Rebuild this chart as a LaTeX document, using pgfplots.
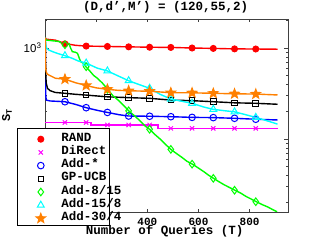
\documentclass[border=0pt]{standalone}
\usepackage{pgfplots}
\pgfplotsset{compat=1.18}
\usepackage{fontspec}
\setmainfont{Liberation Mono}
\newfontfamily\hel{Liberation Sans}
\definecolor{myorange}{rgb}{1,0.5,0}
\definecolor{mygreen}{rgb}{0,1,0}
\definecolor{mycyan}{rgb}{0,1,1}
\definecolor{mymag}{rgb}{1,0,1}

\pgfdeclareplotmark{fstar}{%
  \pgfpathmoveto{\pgfpointpolar{90}{\pgfplotmarksize}}%
  \pgfpathlineto{\pgfpointpolar{126}{0.42\pgfplotmarksize}}%
  \pgfpathlineto{\pgfpointpolar{162}{\pgfplotmarksize}}%
  \pgfpathlineto{\pgfpointpolar{198}{0.42\pgfplotmarksize}}%
  \pgfpathlineto{\pgfpointpolar{234}{\pgfplotmarksize}}%
  \pgfpathlineto{\pgfpointpolar{270}{0.42\pgfplotmarksize}}%
  \pgfpathlineto{\pgfpointpolar{306}{\pgfplotmarksize}}%
  \pgfpathlineto{\pgfpointpolar{342}{0.42\pgfplotmarksize}}%
  \pgfpathlineto{\pgfpointpolar{18}{\pgfplotmarksize}}%
  \pgfpathlineto{\pgfpointpolar{54}{0.42\pgfplotmarksize}}%
  \pgfpathclose
  \pgfusepathqfillstroke}

\newcommand{\lt}[1]{\makebox[48bp][l]{#1}}

\begin{document}
\begin{tikzpicture}
\begin{axis}[
  at={(0,0)}, anchor=south west,
  width=243bp, height=193bp, scale only axis,
  xmin=0, xmax=950,
  ymode=log, ymin=15.8, ymax=2083,
  xtick={0,200,400,600,800},
  xticklabels={0,200,400,600,800},
  ytick={100,1000},
  yticklabels={{10\textsuperscript{2}},{10\textsuperscript{3}}},
  minor ytick={20,30,40,50,60,70,80,90,200,300,400,500,600,700,800,900,2000},
  tick align=inside,
  major tick length=3.5bp, minor tick length=2bp,
  axis line style={black!75, line width=0.6bp},
  every tick/.style={black!75, line width=0.5bp},
  xticklabel style={font=\fontsize{11bp}{13bp}\selectfont\bfseries, anchor=base, yshift=-14bp},
  yticklabel style={font=\hel\fontsize{11.5bp}{13bp}\selectfont},
  title={(D,d',M') = (120,55,2)},
  every axis title/.style={font=\fontsize{12.5bp}{15bp}\selectfont\bfseries, at={(axis description cs:0.496,1)}, anchor=base, yshift=8.5bp},
  xlabel={Number of Queries (T)},
  every axis x label/.style={font=\fontsize{12.5bp}{15bp}\selectfont\bfseries, at={(axis description cs:0.492,0)}, anchor=base, yshift=-23bp},
  ylabel={S\textsubscript{T}},
  every axis y label/.style={font=\fontsize{12bp}{15bp}\selectfont\bfseries, at={(axis description cs:-0.144,0.503)}, anchor=base, rotate=90},
  legend style={
    at={(axis description cs:-0.1152,0.4352)}, anchor=north west,
    draw=black, fill=white, line width=0.6bp,
    inner xsep=0pt, inner ysep=2.3bp,
    font=\fontsize{12.5bp}{13.2bp}\selectfont\bfseries,
    row sep=0pt,
    nodes={inner sep=0pt, text height=10.6bp, text depth=2.6bp},
  },
  legend cell align=left,
  mk/.style={only marks, line width=1bp,
    legend image code/.code={\path (0bp,-6bp) (43bp,6bp); \draw[##1] plot coordinates {(23bp,-2bp)};}},
  ln/.style={line width=1.4bp, no marks, forget plot},
]
% RAND
\addplot[ln, red] coordinates {(1,1300)(5,1250)(40,1220)(78,1120)(120,1070)(161,1050)(244,1040)(327,1030)(409,1020)(492,1015)(575,1000)(658,990)(741,978)(824,975)(909,970)};
\addplot[mk, red, mark=*, mark size=3bp, mark options={fill=red}] coordinates {(78,1110)(161,1050)(244,1040)(327,1030)(409,1020)(492,1015)(575,1000)(658,990)(741,978)(824,975)};
\addlegendentry{\lt{RAND}}
% DiRect
\addplot[ln, mymag] coordinates {(1,152)(180,152)(180,143)(442,143)(442,131)(909,131)};
\addplot[mk, mymag, mark=x, mark size=3bp] coordinates {(78,152)(161,152)(244,143)(327,143)(409,143)(492,131)(575,131)(658,131)(741,131)(824,131)};
\addlegendentry{\lt{DiRect}}
% Add-*
\addplot[ln, blue] coordinates {(1,1300)(2,420)(3,300)(5,268)(20,262)(78,257)(120,240)(161,221)(200,208)(244,196)(290,185)(327,179)(409,178)(492,176)(575,173)(658,172)(741,169)(824,165)(909,162)};
\addplot[mk, blue, mark=o, mark size=3.3bp] coordinates {(78,257)(161,221)(244,196)(327,179)(409,178)(492,176)(575,173)(658,172)(741,169)(824,165)};
\addlegendentry{\lt{Add-*}}
% GP-UCB
\addplot[ln, black] coordinates {(1,1300)(2,700)(3,500)(5,409)(10,360)(20,340)(40,325)(78,318)(120,310)(161,304)(244,291)(327,285)(409,280)(492,268)(575,264)(658,257)(741,250)(824,247)(909,241)};
\addplot[mk, black, mark=square, mark size=2.8bp] coordinates {(78,318)(161,304)(244,291)(327,285)(409,280)(492,268)(575,264)(658,257)(741,250)(824,247)};
\addlegendentry{\lt{GP-UCB}}
% Add-8/15
\addplot[ln, mygreen] coordinates {(1,1300)(3,1225)(30,1200)(55,1180)(74,1085)(85,1130)(94,1120)(100,1000)(107,911)(118,900)(127,875)(135,760)(140,707)(150,680)(160,623)(175,560)(190,500)(205,465)(225,410)(245,352)(265,300)(290,262)(310,230)(327,204)(350,180)(370,160)(390,140)(409,128)(430,112)(450,100)(470,88)(492,77)(515,69)(535,63)(555,57)(576,53)(600,48)(620,44)(640,40)(659,37)(680,34)(700,31.5)(720,29.5)(742,27.4)(765,25.5)(785,23.5)(805,22)(826,20.5)(850,19)(870,18)(890,16.8)(907,15.9)};
\addplot[mk, mygreen, mark=diamond, mark size=3.8bp] coordinates {(78,1085)(161,623)(244,352)(327,204)(409,128)(492,77)(575,53)(658,37)(741,27.4)(824,20.5)};
\addlegendentry{\lt{Add-8/15}}
% Add-15/8
\addplot[ln, mycyan] coordinates {(1,1300)(3,1100)(6,1000)(15,950)(30,911)(50,870)(78,823)(107,770)(130,720)(161,683)(205,600)(244,560)(285,495)(327,437)(370,395)(409,361)(450,310)(492,275)(535,260)(575,247)(620,225)(658,212)(700,205)(741,199)(785,185)(824,173)(870,158)(909,146)};
\addplot[mk, mycyan, mark=triangle, mark size=4bp] coordinates {(78,823)(161,683)(244,560)(327,437)(409,361)(492,275)(575,247)(658,212)(741,199)(824,173)};
\addlegendentry{\lt{Add-15/8}}
% Add-30/4
\addplot[ln, myorange] coordinates {(1,1300)(2,650)(4,560)(8,520)(15,505)(41,465)(78,455)(120,415)(161,388)(200,365)(244,352)(285,343)(327,339)(409,335)(492,323)(575,322)(658,318)(741,314)(824,312)(909,305)};
\addplot[mk, myorange, mark=fstar, mark size=5bp, mark options={fill=myorange}] coordinates {(78,455)(161,388)(244,352)(327,339)(409,335)(492,323)(575,322)(658,318)(741,314)(824,312)};
\addlegendentry{\lt{Add-30/4}}
\end{axis}
\pgfresetboundingbox
\path (-45bp,-28bp) rectangle (274bp,212bp);
\end{tikzpicture}
\end{document}
